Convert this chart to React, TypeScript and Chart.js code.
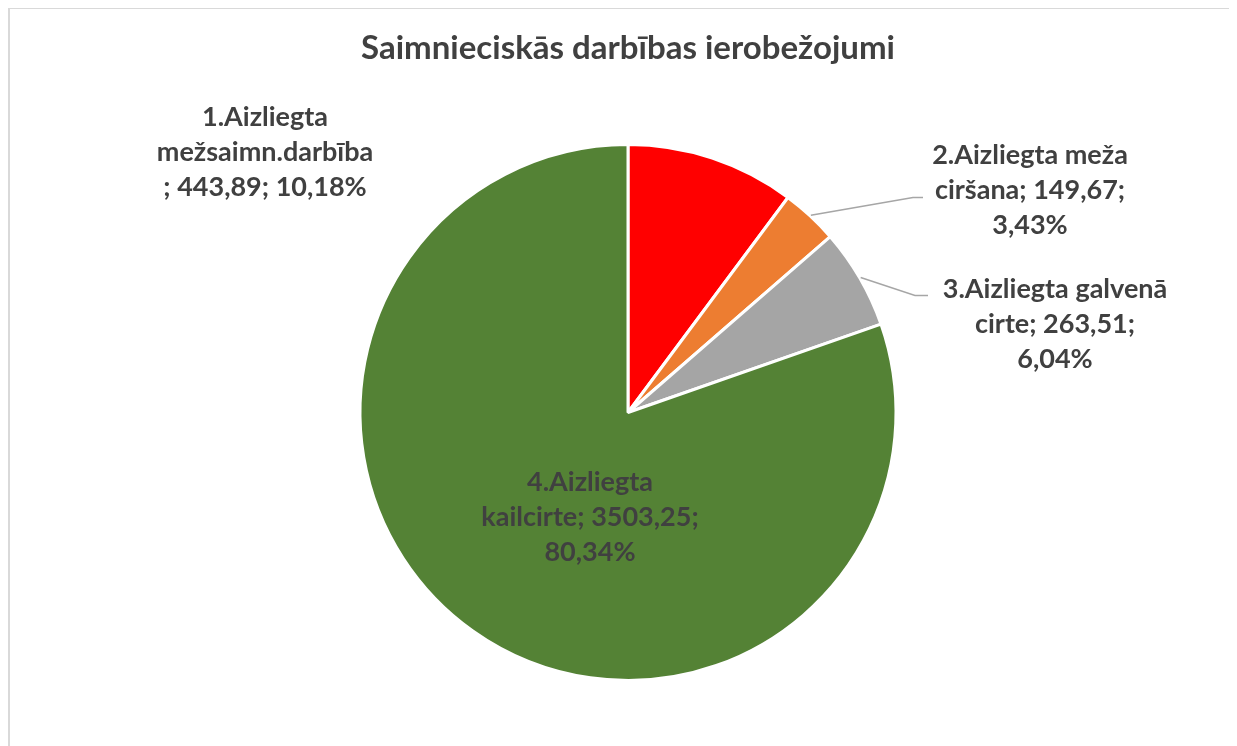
import { useEffect, useRef } from "react";
import { Chart, registerables } from "chart.js";

Chart.register(...registerables);

const TITLE = "Saimnieciskās darbības ierobežojumi";
const categories = [
  "1.Aizliegta mežsaimn.darbība",
  "2.Aizliegta meža ciršana",
  "3.Aizliegta galvenā cirte",
  "4.Aizliegta kailcirte",
];
const values = [443.89, 149.67, 263.51, 3503.25];
const percents = ["10,18%", "3,43%", "6,04%", "80,34%"];
const valueLabels = ["443,89", "149,67", "263,51", "3503,25"];
const colors = ["#FF0000", "#ED7D31", "#A5A5A5", "#548235"];

// label lines as Excel wrapped them
const labelLines = [
  [`1.Aizliegta`, `mežsaimn.darbība`, `; ${valueLabels[0]}; ${percents[0]}`],
  [`2.Aizliegta meža`, `ciršana; ${valueLabels[1]};`, `${percents[1]}`],
  [`3.Aizliegta galvenā`, `cirte; ${valueLabels[2]};`, `${percents[2]}`],
  [`4.Aizliegta`, `kailcirte; ${valueLabels[3]};`, `${percents[3]}`],
];

// layout: offsets from pie center (px)
const labelLayout = [
  { dx: -363, dy: -295, leader: null as null | number[][] },
  { dx: 402, dy: -257, leader: [[285, -215], [295, -215]] },
  { dx: 427, dy: -123, leader: [[287, -117], [300, -117]] },
  { dx: -38, dy: 70, leader: null as null | number[][] },
];

const FONT = "Lato, 'Open Sans', sans-serif";
const TEXT = "#404040";

const labelPlugin = {
  id: "excelLabels",
  afterDatasetsDraw(chart: any) {
    const ctx = chart.ctx as CanvasRenderingContext2D;
    const meta = chart.getDatasetMeta(0);
    const arcs = meta.data as any[];
    if (!arcs.length) return;
    const cx = arcs[0].x;
    const cy = arcs[0].y;
    ctx.save();
    // title
    ctx.fillStyle = TEXT;
    ctx.font = `bold 33px ${FONT}`;
    ctx.textAlign = "center";
    ctx.textBaseline = "middle";
    ctx.fillText(TITLE, cx, cy - 364);

    arcs.forEach((arc: any, i: number) => {
      const lay = labelLayout[i];
      const { startAngle, endAngle, outerRadius } = arc.getProps(
        ["startAngle", "endAngle", "outerRadius"],
        true
      );
      if (lay.leader) {
        const mid = (startAngle + endAngle) / 2;
        const r = outerRadius + 1;
        ctx.beginPath();
        ctx.strokeStyle = "#A6A6A6";
        ctx.lineWidth = 1.5;
        ctx.moveTo(cx + Math.cos(mid) * r, cy + Math.sin(mid) * r);
        lay.leader.forEach((p) => ctx.lineTo(cx + p[0], cy + p[1]));
        ctx.stroke();
      }
      ctx.fillStyle = TEXT;
      ctx.font = `bold 27px ${FONT}`;
      ctx.textAlign = "center";
      ctx.textBaseline = "middle";
      labelLines[i].forEach((line, j) => {
        ctx.fillText(line, cx + lay.dx, cy + lay.dy + j * 35);
      });
    });
    ctx.restore();
  },
};

export default function App() {
  const ref = useRef<HTMLCanvasElement | null>(null);
  useEffect(() => {
    document.documentElement.style.overflow = "hidden";
    document.body.style.overflow = "hidden";
    if (!ref.current) return;
    const chart = new Chart(ref.current, {
      type: "pie",
      data: {
        labels: categories,
        datasets: [
          {
            data: values,
            backgroundColor: colors,
            borderColor: "#FFFFFF",
            borderWidth: 3,
            radius: 268,
          } as any,
        ],
      },
      options: {
        animation: false,
        responsive: false,
        maintainAspectRatio: false,
        layout: { padding: { left: 100, right: 91, top: 100, bottom: 30 } },
        plugins: {
          legend: { display: false },
          tooltip: { enabled: false },
          title: { display: false },
        },
      },
      plugins: [labelPlugin],
    });
    return () => chart.destroy();
  }, []);
  return (
    <div
      style={{
        width: 1229,
        height: 738,
        borderTop: "1px solid #D9D9D9",
        borderLeft: "2px solid #D9D9D9",
        boxSizing: "border-box",
        background: "#fff",
        overflow: "visible",
        position: "relative",
      }}
    >
      <div
        style={{
          position: "absolute",
          top: -1,
          left: 1227,
          width: 20,
          height: 0,
          borderTop: "1px solid #D9D9D9",
        }}
      />
      <canvas ref={ref} width={1227} height={737} style={{ display: "block" }} />
    </div>
  );
}
